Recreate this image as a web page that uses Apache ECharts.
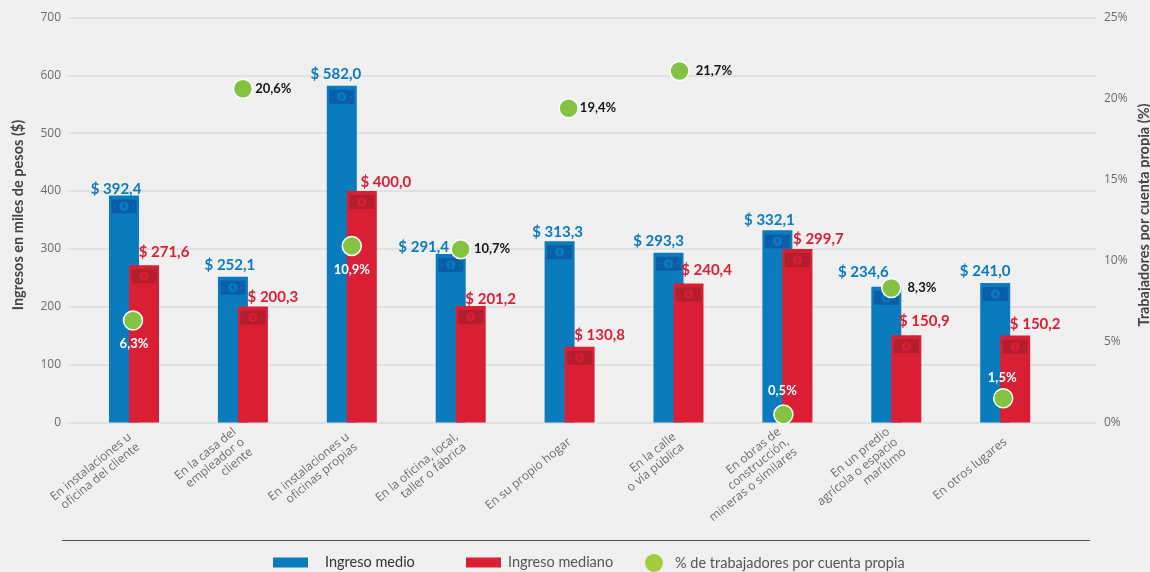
<!DOCTYPE html>
<html><head><meta charset="utf-8">
<style>html,body{margin:0;padding:0;background:#f0f0f0}#c{width:1150px;height:572px}</style>
<script src="https://cdn.jsdelivr.net/npm/echarts@6/dist/echarts.min.js"></script>
</head><body><div id="c"></div>
<script>
const categories = ['En instalaciones u\noficina del cliente','En la casa del\nempleador o\ncliente','En instalaciones u\noficinas propias','En la oficina, local,\ntaller o fábrica','En su propio hogar','En la calle\no vía pública','En obras de\nconstrucción,\nmineras o similares','En un predio\nagrícola o espacio\nmarítimo','En otros lugares'];
const ingresoMedio = [392.4,252.1,582.0,291.4,313.3,293.3,332.1,234.6,241.0];
const ingresoMediano = [271.6,200.3,400.0,201.2,130.8,240.4,299.7,150.9,150.2];
const cuentaPropia = [6.3,20.6,10.9,10.7,19.4,21.7,0.5,8.3,1.5];
const incomeTicks = {min:0,max:700,interval:100};
const shareTicks = {min:0,max:25,interval:5};

// label placement
const blueLabelShift = [[-8,1],[-3,-4],[-6,-4],[-27,1],[-2,-2],[-10,-4],[-8,-3],[-23,-7],[-10,-4]];
const redLabelShift = [[20,-6],[20,-2],[24,-1],[20,1],[20,-4],[18,-6],[21,-2],[18,-7],[20,-4]];
const dotShiftX = [-1,0,0,0,-1,1,-4,-5,-2];
const dotLabels = [
 {c:'#fff',pos:'bottom',off:[2,4]},{c:'#141414',pos:'right',off:[-1,0]},{c:'#fff',pos:'bottom',off:[0,4]},
 {c:'#141414',pos:'right',off:[0,0]},{c:'#141414',pos:'right',off:[-1,0]},{c:'#141414',pos:'right',off:[2,0]},
 {c:'#fff',pos:'top',off:[3,-4]},{c:'#141414',pos:'right',off:[8,0]},{c:'#fff',pos:'top',off:[1,-1]}
];
const BLUE='#0a7bbd',RED='#da1e34',GREEN='#84c341',F='"Open Sans"',L='Lato';
const fmt = v => '$ ' + v.toFixed(1).replace('.',',');

function billSeries(values, side, dark, light){
  return {type:'custom',xAxisIndex:1,yAxisIndex:2,z:3,silent:true,
    data:values.map((v,i)=>[i,v]),
    renderItem:(p,api)=>{
      const pt=api.coord([api.value(0),api.value(1)]);
      const cx=pt[0]+side*10, y=pt[1]+4, w=25,h=14, my=y+h/2;
      return {type:'group',children:[
        {type:'rect',shape:{x:cx-w/2,y,width:w,height:h},style:{fill:dark}},
        {type:'circle',shape:{cx,cy:my,r:4.6},style:{fill:light}},
        {type:'circle',shape:{cx:cx-9,cy:my,r:.8},style:{fill:light}},
        {type:'circle',shape:{cx:cx+9,cy:my,r:.8},style:{fill:light}},
        {type:'text',style:{x:cx,y:my,text:'$',fill:dark,font:'bold 7px '+F,align:'center',verticalAlign:'middle'}}
      ]};
    },encode:{x:0,y:1}};
}
function barSeries(name,values,color,shifts){
  return {name,type:'bar',xAxisIndex:1,yAxisIndex:2,barWidth:30,barGap:'-33.33%',z:2,
    itemStyle:{color},
    data:values.map((v,i)=>({value:v,label:{show:true,position:'top',distance:0,offset:shifts[i],
      formatter:fmt(v),color,fontFamily:L,fontWeight:700,fontSize:15}}))};
}
const chart=echarts.init(document.getElementById('c'),null,{renderer:'canvas'});
const legendBase={orient:'horizontal',selectedMode:false,itemHeight:10,itemWidth:35,padding:0,
  textStyle:{fontFamily:L,fontSize:14.5,color:'#555'}};
chart.setOption({
  backgroundColor:'#f0f0f0',animation:false,
  grid:[{left:68,right:54,top:17.5,bottom:149.5,outerBoundsMode:'none'},{left:79.55,width:980.1,top:17.5,bottom:149.5,outerBoundsMode:'none'}],
  xAxis:[
    {gridIndex:0,type:'category',data:categories,show:false},
    {gridIndex:1,type:'category',data:categories,axisLine:{show:false},axisTick:{show:false},
     axisLabel:{interval:0,rotate:39,margin:18,fontFamily:F,fontSize:12,color:'#6b6b6b',lineHeight:13,align:'right'}}
  ],
  yAxis:[
    {gridIndex:0,type:'value',...incomeTicks,position:'left',axisLine:{show:false},axisTick:{show:false},
     splitLine:{lineStyle:{color:'#dcdcdc',width:1.5}},
     axisLabel:{margin:7,fontFamily:F,fontSize:12,color:'#6b6b6b'},
     name:'Ingresos en miles de pesos ($)',nameLocation:'middle',nameRotate:90,nameGap:42,nameMoveOverlap:false,
     nameTextStyle:{fontFamily:L,fontSize:14.5,fontWeight:700,color:'#444',padding:[0,0,0,10]}},
    {gridIndex:0,type:'value',...shareTicks,position:'right',axisLine:{show:false},axisTick:{show:false},splitLine:{show:false},
     axisLabel:{margin:8,fontFamily:F,fontSize:12,color:'#6b6b6b',formatter:'{value}%'},
     name:'Trabajadores por cuenta propia (%)',nameLocation:'middle',nameRotate:90,nameGap:41,nameMoveOverlap:false,
     nameTextStyle:{fontFamily:L,fontSize:14.5,fontWeight:700,color:'#444',padding:[0,0,0,10]}},
    {gridIndex:1,type:'value',...incomeTicks,show:false},
    {gridIndex:1,type:'value',...shareTicks,show:false}
  ],
  legend:[
    {...legendBase,left:273,top:555,data:[{name:'Ingreso medio',icon:'rect'}],textStyle:{...legendBase.textStyle,padding:[0,0,0,12],color:'#333'}},
    {...legendBase,left:466,top:555,data:[{name:'Ingreso mediano',icon:'rect'}],textStyle:{...legendBase.textStyle,padding:[0,0,0,2]}},
    {...legendBase,left:645,top:554,itemWidth:18,itemHeight:18,data:[{name:'% de trabajadores por cuenta propia',icon:'circle',itemStyle:{color:'#a2cd3a',borderWidth:0}}],textStyle:{...legendBase.textStyle,padding:[0,0,0,7]}}
  ],
  series:[
    barSeries('Ingreso medio',ingresoMedio,BLUE,blueLabelShift),
    barSeries('Ingreso mediano',ingresoMediano,RED,redLabelShift),
    billSeries(ingresoMedio,-1,'#0a5ea8','#0a7bbd'),
    billSeries(ingresoMediano,1,'#b31e2e','#da1e34'),
    {name:'% de trabajadores por cuenta propia',type:'scatter',xAxisIndex:1,yAxisIndex:3,z:5,symbolSize:19,
     itemStyle:{color:GREEN,borderColor:'#fff',borderWidth:1.5,opacity:1},
     data:cuentaPropia.map((v,i)=>({value:[i,v],symbolOffset:[dotShiftX[i],0],
       label:{show:true,position:dotLabels[i].pos,offset:[dotLabels[i].off[0]+dotShiftX[i],dotLabels[i].off[1]],
         distance:3,formatter:v.toFixed(1).replace('.',',')+'%',color:dotLabels[i].c,
         fontFamily:L,fontWeight:700,fontSize:13}}))}
  ],
  graphic:[{type:'line',silent:true,shape:{x1:62,y1:540.5,x2:1090,y2:540.5},style:{stroke:'#555',lineWidth:1}}]
});
</script></body></html>
